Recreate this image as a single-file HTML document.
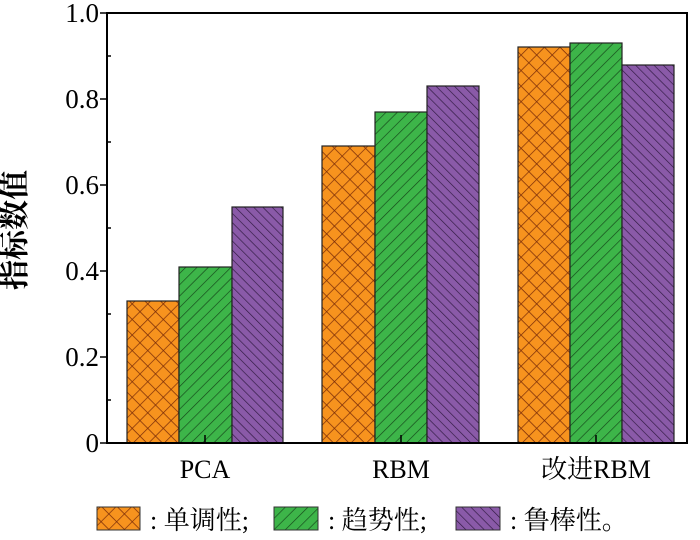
<!DOCTYPE html>
<html><head><meta charset="utf-8"><style>
body{margin:0;background:#fff;}
svg text{font-family:"Liberation Serif","Noto Serif CJK SC",serif;fill:#000;}
</style></head><body>
<svg width="700" height="535" viewBox="0 0 700 535" xmlns="http://www.w3.org/2000/svg">
<defs>
<pattern id="po" width="11" height="11" patternUnits="userSpaceOnUse" patternTransform="rotate(45)">
<rect width="11" height="11" fill="#f7931e"/>
<path d="M0 0H11M0 0V11" stroke="#7a2c08" stroke-width="1.4"/>
</pattern>
<pattern id="pg" width="8" height="8" patternUnits="userSpaceOnUse" patternTransform="rotate(45)">
<rect width="8" height="8" fill="#3db549"/>
<path d="M0 0V8" stroke="#15451a" stroke-width="1.3"/>
</pattern>
<pattern id="pp" width="6.5" height="6.5" patternUnits="userSpaceOnUse" patternTransform="rotate(-45)">
<rect width="6.5" height="6.5" fill="#8a5aa8"/>
<path d="M0 0V6.5" stroke="#2e183f" stroke-width="1.3"/>
</pattern>
</defs>
<g stroke="#222" stroke-width="1.2">
<rect x="127" y="301" width="52" height="142" fill="url(#po)"/>
<rect x="179" y="267" width="53" height="176" fill="url(#pg)"/>
<rect x="232" y="207" width="51" height="236" fill="url(#pp)"/>
<rect x="322" y="146" width="53" height="297" fill="url(#po)"/>
<rect x="375" y="112" width="52" height="331" fill="url(#pg)"/>
<rect x="427" y="86" width="52" height="357" fill="url(#pp)"/>
<rect x="518" y="47" width="52" height="396" fill="url(#po)"/>
<rect x="570" y="43" width="52" height="400" fill="url(#pg)"/>
<rect x="622" y="65" width="52" height="378" fill="url(#pp)"/>
</g>
<g stroke="#000" stroke-width="2" fill="none">
<rect x="107" y="13" width="580" height="430"/>
</g>
<g stroke="#000" stroke-width="1.5">
<path d="M100 443h7M100 357h7M100 271h7M100 185h7M100 99h7M100 13h7"/>
<path d="M107 400h4M107 314h4M107 228h4M107 142h4M107 56h4"/>
<path d="M205 443v-8M401 443v-8M596 443v-8"/>
</g>
<g font-size="27" text-anchor="end">
<text x="99" y="452">0</text>
<text x="99" y="366">0.2</text>
<text x="99" y="280">0.4</text>
<text x="99" y="194">0.6</text>
<text x="99" y="108">0.8</text>
<text x="99" y="22">1.0</text>
</g>
<g font-size="26" text-anchor="middle">
<text x="205" y="478">PCA</text>
<text x="401" y="478">RBM</text>
<text x="596" y="478">改进RBM</text>
</g>
<text transform="translate(25,230) rotate(-90)" font-size="30" font-weight="bold" text-anchor="middle">指标数值</text>
<g stroke="#333" stroke-width="1">
<rect x="97" y="507" width="43" height="23" fill="url(#po)"/>
<rect x="274" y="507" width="44" height="23" fill="url(#pg)"/>
<rect x="456" y="507" width="44" height="23" fill="url(#pp)"/>
</g>
<g font-size="26">
<text x="150" y="529">: 单调性;</text>
<text x="328" y="529">: 趋势性;</text>
<text x="510" y="529">: 鲁棒性。</text>
</g>
</svg>
</body></html>
